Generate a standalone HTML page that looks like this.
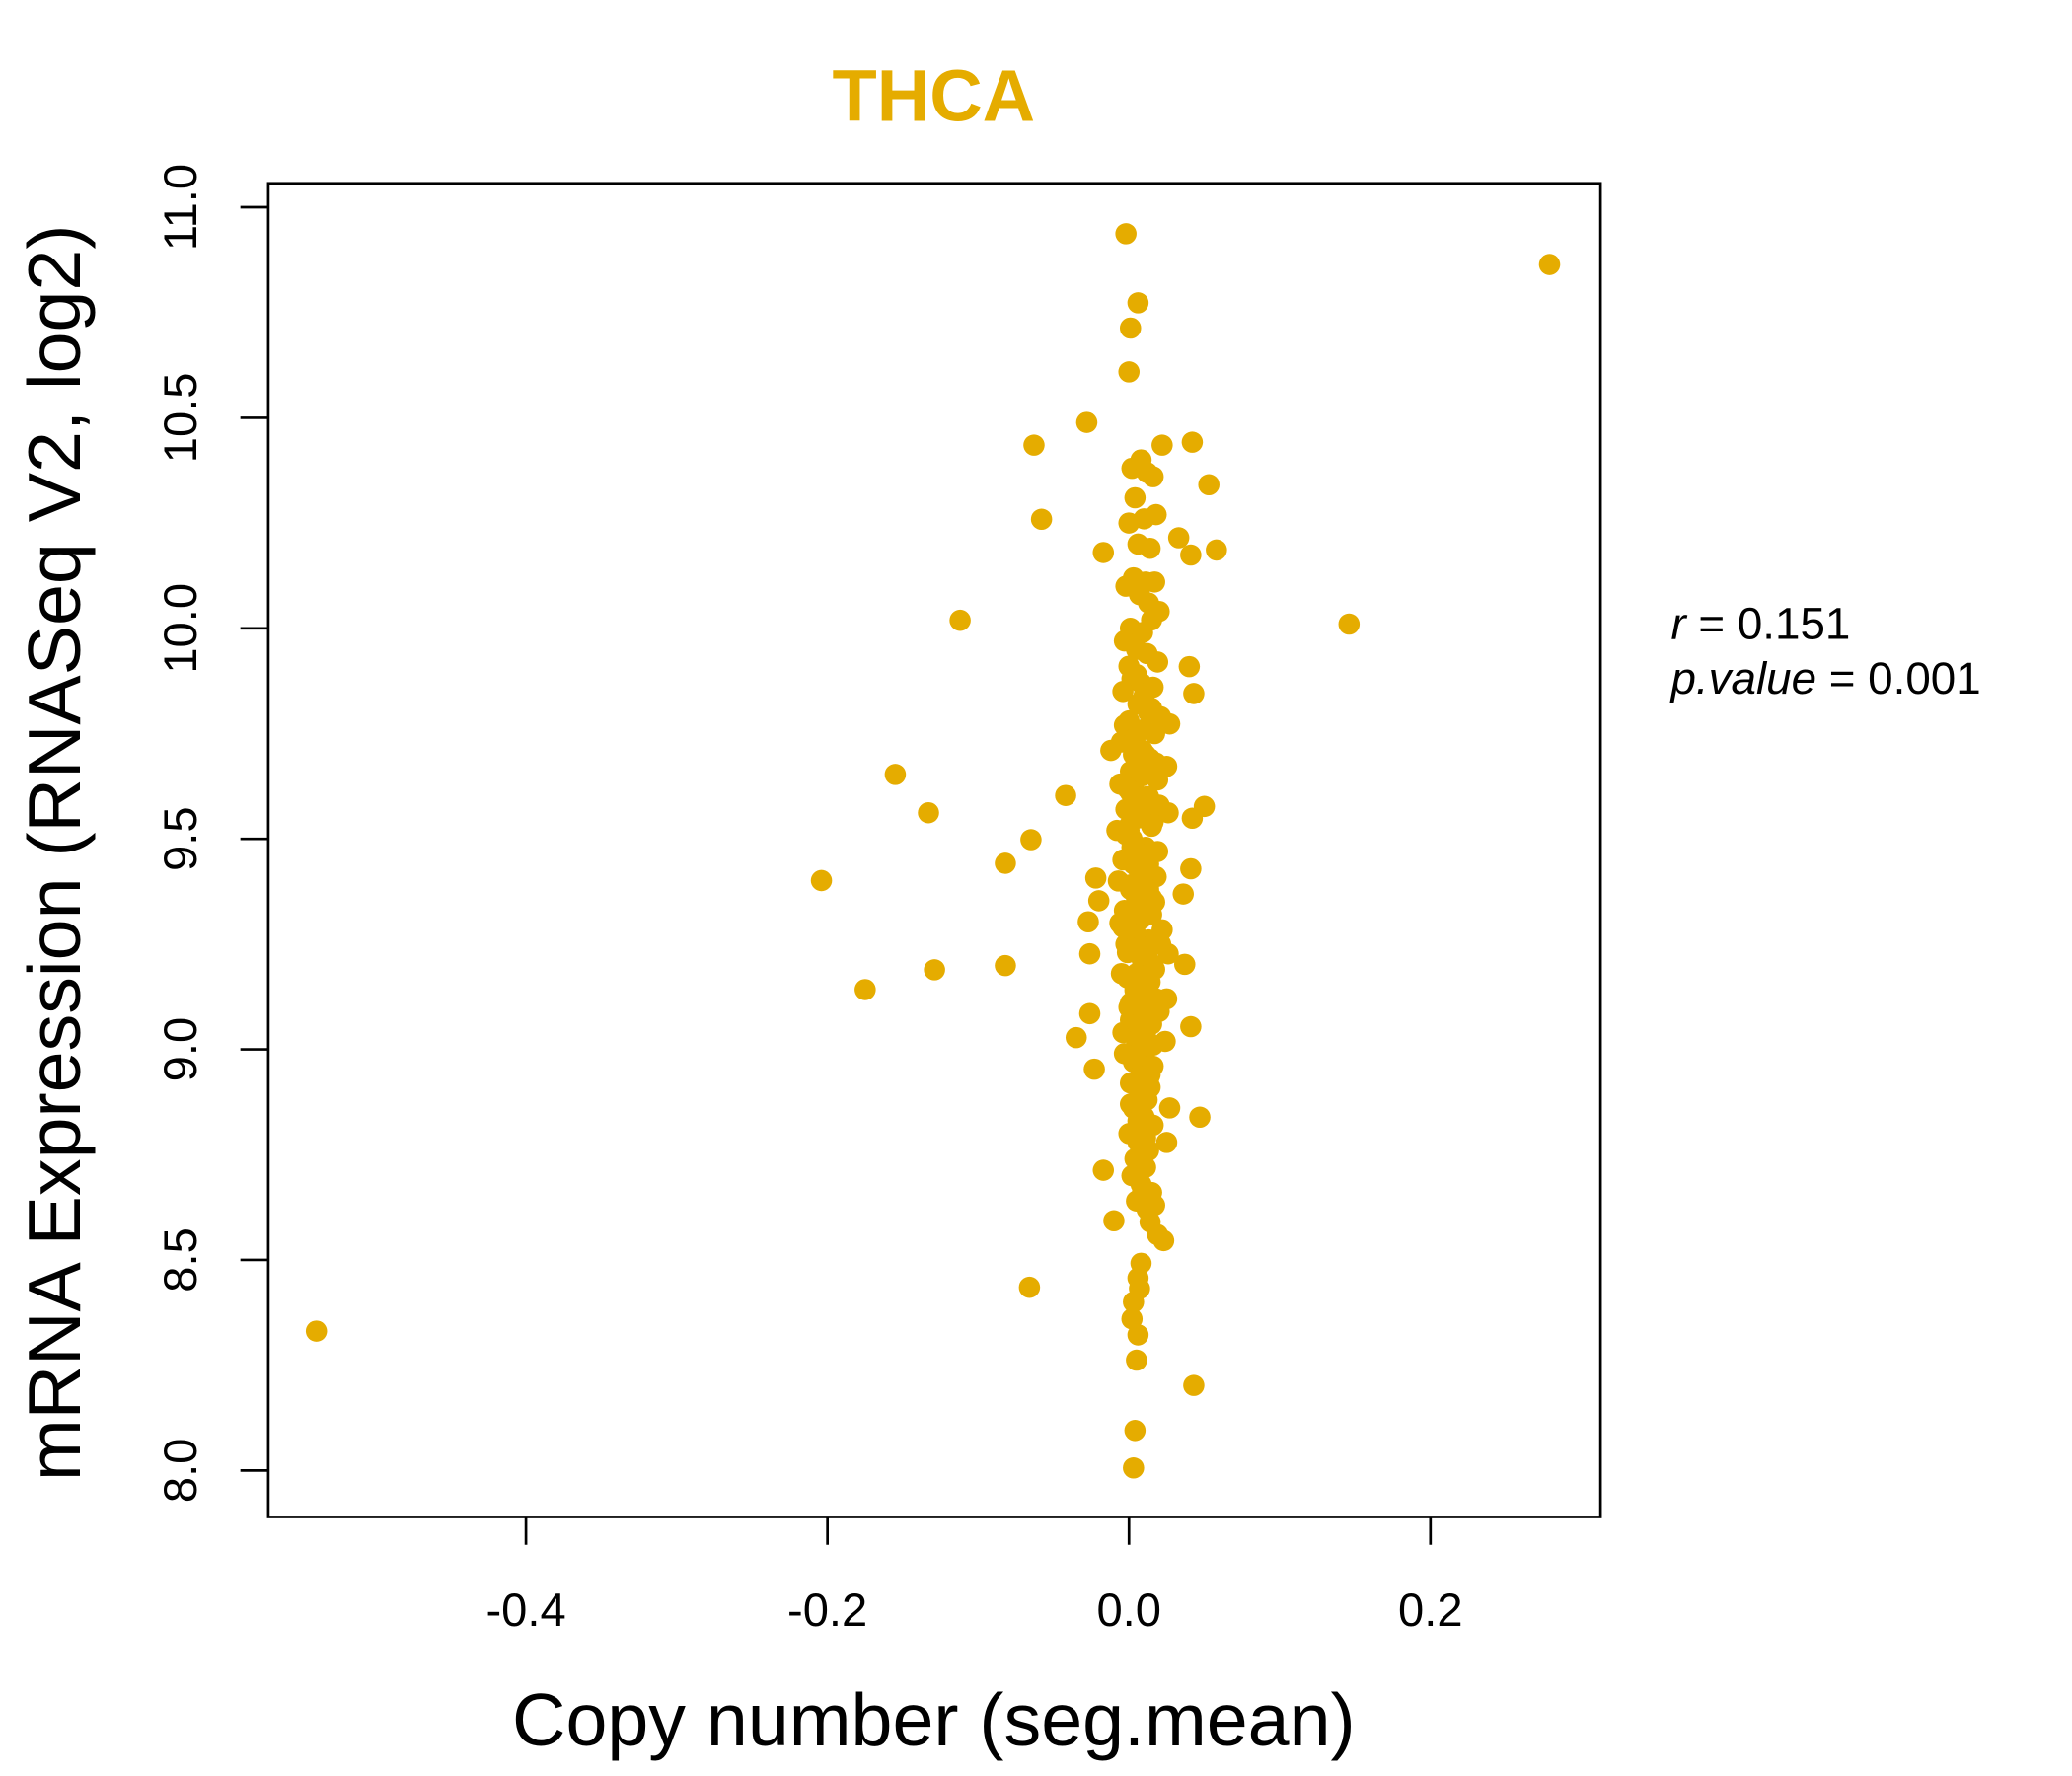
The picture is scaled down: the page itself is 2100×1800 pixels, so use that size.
<!DOCTYPE html>
<html><head><meta charset="utf-8"><style>
html,body{margin:0;padding:0;background:#fff;width:2100px;height:1800px;overflow:hidden}
svg{display:block}
text{font-family:"Liberation Sans",sans-serif;fill:#000}
</style></head><body>
<svg id="chart" width="2100" height="1800" viewBox="0 0 1560 1337" preserveAspectRatio="none" xmlns="http://www.w3.org/2000/svg">
<text x="703" y="91" text-anchor="middle" font-size="55" font-weight="bold" style="fill:#E5AC00">THCA</text>
<rect x="202" y="138" width="1003" height="1004" fill="none" stroke="#000" stroke-width="2"/>
<g id="xaxis"></g>
<g id="yaxis"></g>
<g id="points"></g>
<text x="703" y="1314" text-anchor="middle" font-size="56">Copy number (seg.mean)</text>
<text transform="translate(60,642) rotate(-90)" text-anchor="middle" font-size="56">mRNA Expression (RNASeq V2, log2)</text>
<text x="1258" y="481" font-size="34"><tspan font-style="italic">r</tspan> = 0.151</text>
<text x="1258" y="522" font-size="34"><tspan font-style="italic">p.value</tspan> = 0.001</text>
</svg>
<script>
const xTicks=[-0.4,-0.2,0.0,0.2];
const xTickLabels=["-0.4","-0.2","0.0","0.2"];
const yTicks=[8.0,8.5,9.0,9.5,10.0,10.5,11.0];
const yTickLabels=["8.0","8.5","9.0","9.5","10.0","10.5","11.0"];
const xVals=[0.279,-0.539,0.146,-0.002,0.006,0.001,0.0,-0.028,-0.063,-0.058,-0.017,-0.112,-0.155,-0.133,-0.042,-0.065,-0.204,-0.082,-0.175,-0.129,-0.082,-0.066,
0.042,0.053,0.058,0.033,0.041,0.022,0.040,0.043,0.05,0.042,0.041,0.036,0.037,0.041,0.047,0.043,0.027,0.025,0.023,-0.035,-0.023,-0.017,-0.01,-0.026,-0.026,-0.027,-0.02,-0.022,-0.012,
0.003,0.004,0.005,0.006,0.002,0.003,0.007,0.006,0.008,0.017,0.014,0.019,0.027,0.025,0.026,0.026,0.025,0.024,0.022,
0.002,0.008,0.012,0.016,0.004,0.010,0.018,0.0,0.006,0.014,0.003,0.011,0.017,-0.002,0.007,0.013,0.020,0.001,0.009,0.015,
-0.003,0.005,0.012,0.019,0.002,0.008,0.016,-0.004,0.006,0.013,0.021,0.0,0.010,0.017,-0.005,0.004,0.011,0.018,0.001,0.009,
-0.006,0.003,0.012,0.020,-0.002,0.007,0.015,-0.008,0.002,0.011,0.019,-0.004,0.006,0.014,-0.007,0.001,0.010,0.017,-0.003,0.008,
-0.006,0.004,0.013,0.021,-0.001,0.009,0.016,-0.005,0.003,0.012,0.018,0.0,0.007,0.015,-0.004,0.005,0.011,0.002,0.009,0.014,
0.001,0.007,0.012,0.003,0.010,0.016,0.0,0.006,0.013,0.004,0.011,0.002,0.008,0.015,0.005,0.001,0.009,0.006,0.012,0.003,
0.0,0.005,0.010,0.015,-0.003,0.004,0.009,0.014,0.019,0.001,0.006,0.011,0.016,-0.002,0.003,0.008,0.013,0.018,0.0,0.005,
0.010,0.015,-0.004,0.002,0.007,0.012,0.017,-0.001,0.004,0.009,0.014,0.020,0.001,0.006,0.011,0.016,-0.003,0.003,0.008,0.013,
0.018,0.0,0.005,0.010,0.015,-0.002,0.004,0.009,0.014,0.001,0.006,0.011,0.016,-0.001,0.003,0.008,0.013,0.0,0.005,0.010,
0.002,0.007,0.012,-0.002,0.004,0.009,0.014,0.001,0.006,0.011,0.003,0.008,0.013,0.0,0.005,0.010,0.002,0.007,0.012,0.004];
const yVals=[10.864,8.331,10.01,10.937,10.773,10.713,10.609,10.489,10.435,10.259,10.18,10.019,9.653,9.562,9.603,9.498,9.401,9.442,9.142,9.189,9.199,8.435,
10.442,10.341,10.186,10.215,10.174,10.435,9.909,9.845,9.577,9.549,9.429,9.369,9.202,9.054,8.839,8.202,8.861,8.779,8.546,9.028,8.953,8.713,8.593,9.085,9.227,9.303,9.353,9.407,9.71,
8.006,8.095,8.262,8.322,8.36,8.4,8.432,8.457,8.492,8.63,8.59,8.56,9.773,9.672,9.562,9.227,9.12,9.019,9.284,
10.38,10.40,10.37,10.36,10.31,10.26,10.27,10.25,10.20,10.19,10.12,10.11,10.11,10.10,10.08,10.06,10.04,10.00,9.99,10.02,
9.97,9.95,9.94,9.92,9.88,9.87,9.86,9.85,9.82,9.80,9.79,9.78,9.76,9.75,9.73,9.72,9.70,9.68,9.66,9.65,
9.63,9.62,9.60,9.58,9.57,9.55,9.53,9.52,9.50,9.48,9.47,9.45,9.43,9.42,9.40,9.38,9.37,9.35,9.33,9.31,
9.30,9.28,9.26,9.25,9.23,9.21,9.20,9.18,9.16,9.14,9.12,9.10,9.08,9.06,9.04,9.02,9.00,8.98,8.96,8.94,
8.92,8.90,8.88,8.86,8.84,8.82,8.80,8.78,8.76,8.74,8.72,8.70,8.68,8.66,8.64,8.80,8.66,8.88,8.62,9.44,
9.91,9.89,9.84,9.81,9.77,9.74,9.71,9.69,9.64,9.61,9.59,9.56,9.54,9.51,9.49,9.46,9.44,9.41,9.39,9.36,
9.34,9.32,9.29,9.27,9.24,9.22,9.19,9.17,9.15,9.13,9.11,9.09,9.07,9.05,9.03,9.01,8.99,8.97,8.95,8.93,
9.58,9.52,9.47,9.41,9.36,9.31,9.26,9.21,9.16,9.11,9.06,9.01,8.96,9.62,9.55,9.46,9.38,9.28,9.18,9.08,
9.48,9.42,9.33,9.25,9.14,9.04,8.91,8.87,8.83,8.79,9.70,9.66,9.60,9.53,9.44,9.35,9.24,9.15,9.05,8.98];
const NS="http://www.w3.org/2000/svg";
const X0=202,X1=1205,Y0=138,Y1=1142;
function sx(v){return 850+v*1135;}
function sy(v){return 156+(11-v)*317;}
const xa=document.getElementById('xaxis'),ya=document.getElementById('yaxis'),pg=document.getElementById('points');
xTicks.forEach((t,i)=>{
 const l=document.createElementNS(NS,'line');
 
 
 l.setAttribute('x1',sx(t));l.setAttribute('x2',sx(t));l.setAttribute('y1',Y1);l.setAttribute('y2',Y1+21);
 l.setAttribute('stroke','#000');l.setAttribute('stroke-width','2');xa.appendChild(l);
 const tx=document.createElementNS(NS,'text');
 
 
 tx.setAttribute('x',sx(t));tx.setAttribute('y',1224);tx.setAttribute('text-anchor','middle');tx.setAttribute('font-size','35');
 tx.textContent=xTickLabels[i];xa.appendChild(tx);
});
yTicks.forEach((t,i)=>{
 const l=document.createElementNS(NS,'line');
 
 
 l.setAttribute('x1',X0);l.setAttribute('x2',X0-21);l.setAttribute('y1',sy(t));l.setAttribute('y2',sy(t));
 l.setAttribute('stroke','#000');l.setAttribute('stroke-width','2');ya.appendChild(l);
 const tx=document.createElementNS(NS,'text');
 
 
 tx.setAttribute('transform','translate(148,'+sy(t)+') rotate(-90)');tx.setAttribute('text-anchor','middle');tx.setAttribute('font-size','35');
 tx.textContent=yTickLabels[i];ya.appendChild(tx);
});
xVals.forEach((v,i)=>{
 const c=document.createElementNS(NS,'circle');
 
 
 c.setAttribute('cx',sx(v));c.setAttribute('cy',sy(yVals[i]));c.setAttribute('r','8');c.setAttribute('fill','#E5AC00');
 pg.appendChild(c);
});
</script>
</body></html>
